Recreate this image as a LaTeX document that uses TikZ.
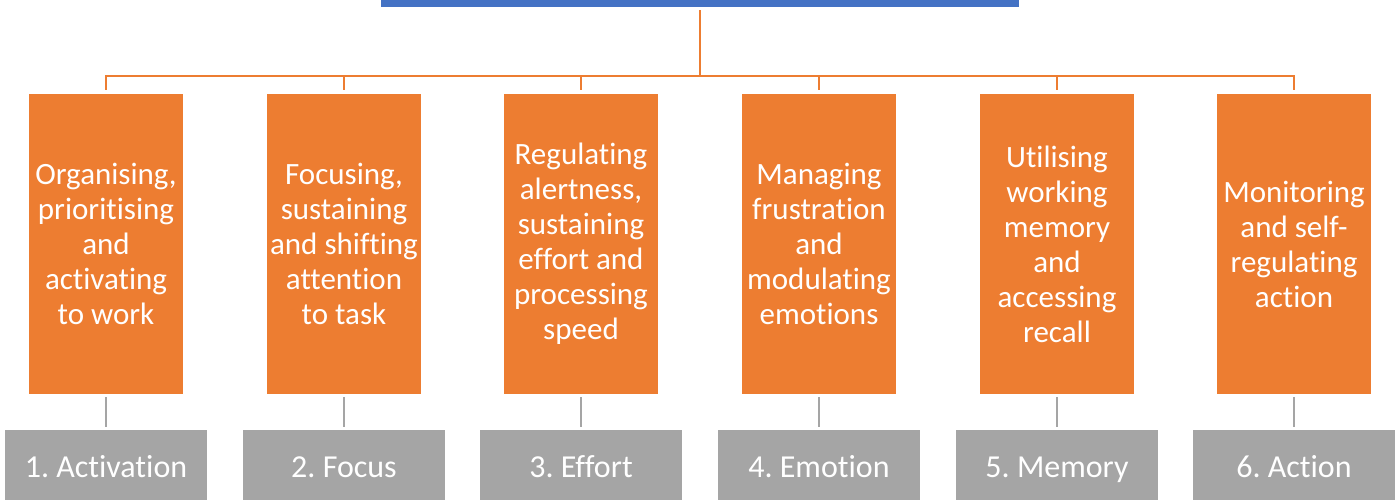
\documentclass[tikz,border=0pt]{standalone}
\usepackage{fontspec}
\setmainfont{Carlito}[Ligatures=NoCommon]
\frenchspacing

\definecolor{boxorange}{HTML}{ED7D31}
\definecolor{barblue}{HTML}{4472C4}
\definecolor{labelgrey}{HTML}{A5A5A5}

\tikzset{
    topbar/.style={fill=barblue, minimum width=638pt, minimum height=35pt, inner sep=0pt},
    taskbox/.style={fill=boxorange, text=white, align=center, inner sep=0pt,
                    minimum width=154pt, minimum height=300pt,
                    font=\fontsize{31}{35}\selectfont},
    namebox/.style={fill=labelgrey, text=white, inner sep=0pt,
                    minimum width=202pt, minimum height=74pt,
                    text height=26pt, text depth=6pt,
                    font=\fontsize{32}{38}\selectfont},
    orgline/.style={draw=boxorange, line width=2.5pt},
    greyline/.style={draw=labelgrey, line width=2.25pt, shorten <=3pt, shorten >=3pt}
}

\begin{document}
\begin{tikzpicture}[x=1pt, y=-1pt]
    \useasboundingbox (0,0) rectangle (1400,500);
    \clip (0,0) rectangle (1400,500);

    \node[topbar] (top) at (700,-10) {};
    \coordinate (bus) at (700,76);

    % the six tasks
    \node[taskbox] (act) at (106,244) {Organising,\\prioritising\\and\\activating\\to work};
    \node[taskbox] (foc) at (344,244) {Focusing,\\sustaining\\and shifting\\attention\\to task};
    \node[taskbox] (eff) at (581,244) {Regulating\\alertness,\\sustaining\\effort and\\processing\\speed};
    \node[taskbox] (emo) at (819,244) {Managing\\frustration\\and\\modulating\\emotions};
    \node[taskbox] (mem) at (1057,244) {Utilising\\working\\memory\\and\\accessing\\recall};
    \node[taskbox] (acn) at (1294,244) {Monitoring\\and self-\\regulating\\action};

    % their names underneath
    \node[namebox] (nact) at (106,467) {1. Activation};
    \node[namebox] (nfoc) at (344,467) {2. Focus};
    \node[namebox] (neff) at (581,467) {3. Effort};
    \node[namebox] (nemo) at (819,467) {4. Emotion};
    \node[namebox] (nmem) at (1057,467) {5. Memory};
    \node[namebox] (nacn) at (1294,467) {6. Action};

    % tree lines
    \draw[orgline, shorten <=2.5pt] (top.south) -- (bus);
    \draw[orgline, shorten >=3.5pt] (bus) -| (act.north);
    \draw[orgline, shorten >=3.5pt] (bus) -| (foc.north);
    \draw[orgline, shorten >=3.5pt] (bus) -| (eff.north);
    \draw[orgline, shorten >=3.5pt] (bus) -| (emo.north);
    \draw[orgline, shorten >=3.5pt] (bus) -| (mem.north);
    \draw[orgline, shorten >=3.5pt] (bus) -| (acn.north);

    \draw[greyline] (act.south) -- (nact.north);
    \draw[greyline] (foc.south) -- (nfoc.north);
    \draw[greyline] (eff.south) -- (neff.north);
    \draw[greyline] (emo.south) -- (nemo.north);
    \draw[greyline] (mem.south) -- (nmem.north);
    \draw[greyline] (acn.south) -- (nacn.north);
\end{tikzpicture}
\end{document}
